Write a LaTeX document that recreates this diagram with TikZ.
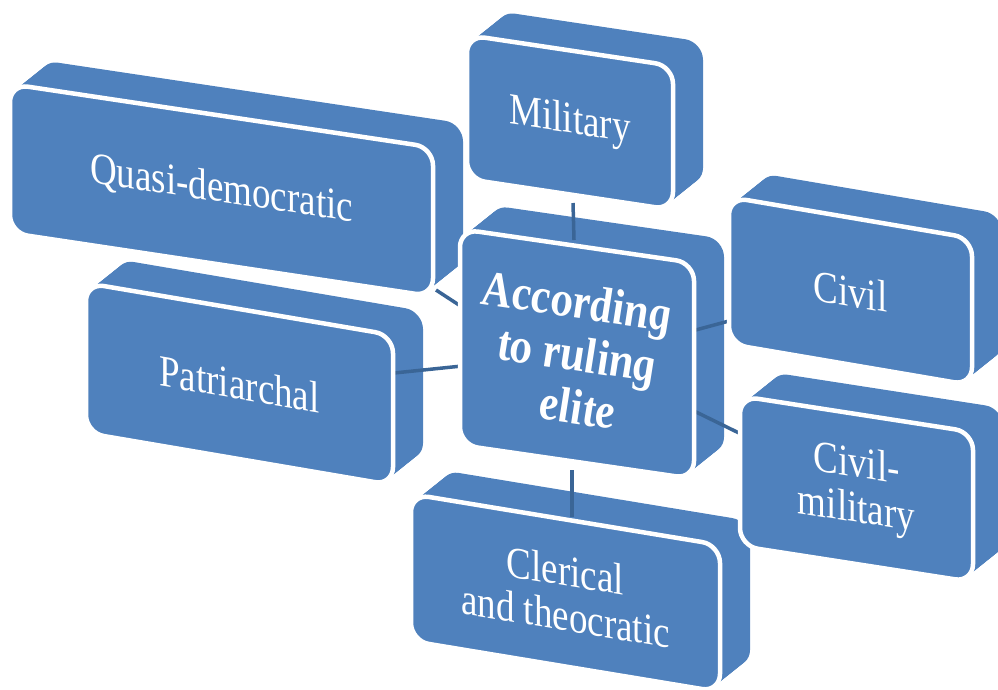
\documentclass[tikz,border=0pt]{standalone}
\usepackage{fontspec}
\setmainfont{Liberation Serif}
\pgfdeclarelayer{backl}
\pgfdeclarelayer{connl}
\pgfsetlayers{backl,connl,main}
\definecolor{boxblue}{HTML}{4F81BD}
\definecolor{linkblue}{HTML}{3A6596}
\tikzset{
  backpart/.style={fill=boxblue, rounded corners=18pt},
  frontpart/.style={fill=boxblue, draw=white, line width=4.5pt, rounded corners=18pt},
  lbl/.style={transform shape, text=white, align=center, inner sep=0pt},
  plainlbl/.style={lbl, yscale=1.2, font=\fontsize{37}{37.5}\selectfont},
  hublbl/.style={lbl, yscale=1.15, font=\fontsize{44}{46}\selectfont\bfseries\itshape},
  link/.style={draw=linkblue, line width=3.5pt}
}
% #1 name, #2 xl, #3 yt, #4 w, #5 h, #6 slope, #7 label style, #8 text
\newcommand{\blk}[8]{%
  \begin{pgfonlayer}{backl}
    \foreach \i in {0,...,20} {
      \begin{scope}[shift={({#2+1.5*\i},{#3-1.2*\i})}, yslant=-#6]
        \path[backpart] (0,0) rectangle (#4,#5);
      \end{scope}
    }
  \end{pgfonlayer}
  \begin{scope}[shift={(#2,#3)}, yslant=-#6]
    \path[frontpart] (0,0) rectangle (#4,#5);
    \node[#7] (#1) at ({#4/2},{#5/2}) {#8};
  \end{scope}
}
\begin{document}
\begin{tikzpicture}[x=1pt, y=-1pt]
\path[use as bounding box] (0,0) rectangle (998,689);

\blk{quasi}{10}{84}{423}{149}{0.15}{plainlbl}{Quasi-democratic}
\blk{military}{467}{35}{206}{144}{0.15}{plainlbl}{Military}
\blk{patri}{86}{283}{307}{150}{0.17}{plainlbl}{Patriarchal}
\blk{civil}{729}{197}{243}{147}{0.17}{plainlbl}{Civil}
\blk{civmil}{740}{396}{233}{150}{0.155}{plainlbl}{Civil-\\military}
\blk{cleric}{411}{494}{309}{147}{0.165}{plainlbl}{Clerical\\and theocratic}
\blk{hub}{460}{229}{234}{216}{0.145}{hublbl}{According\\to ruling\\elite}

\coordinate (hub-n) at (574,240);
\coordinate (military-s) at (573,203);
\coordinate (hub-s) at (572,470);
\coordinate (cleric-n) at (572,517);
\coordinate (hub-w) at (462,366);
\coordinate (patri-e) at (394,373);
\coordinate (hub-nw) at (459,305);
\coordinate (quasi-se) at (436,290);
\coordinate (hub-ne) at (692,331);
\coordinate (civil-w) at (729,321);
\coordinate (hub-se) at (692,410);
\coordinate (civmil-w) at (739,433);

\begin{pgfonlayer}{connl}
  \draw[link] (hub-n) -- (military-s);
  \draw[link] (hub-s) -- (cleric-n);
  \draw[link] (hub-w) -- (patri-e);
  \draw[link] (hub-nw) -- (quasi-se);
  \draw[link] (hub-ne) -- (civil-w);
  \draw[link] (hub-se) -- (civmil-w);
\end{pgfonlayer}
\end{tikzpicture}
\end{document}
